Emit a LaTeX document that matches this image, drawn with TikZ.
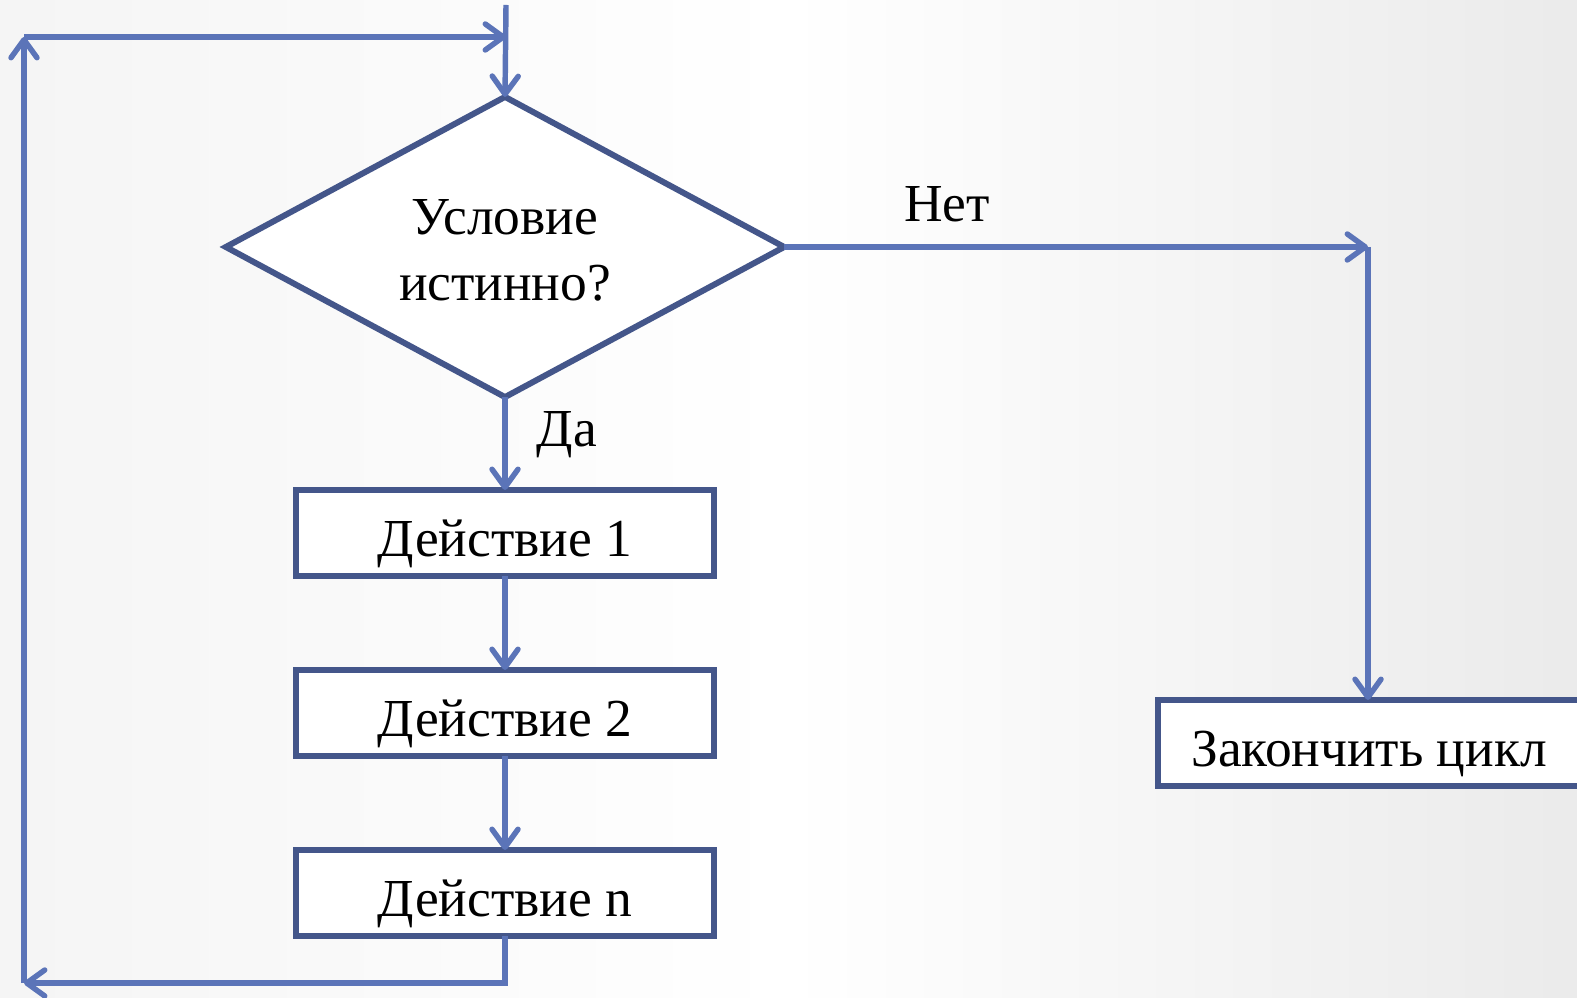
\documentclass[tikz,border=0pt]{standalone}
\usepackage{fontspec}
\setmainfont{Liberation Serif}
\usetikzlibrary{shapes.geometric,arrows.meta}
\definecolor{conn}{RGB}{91,116,184}
\definecolor{boxc}{RGB}{68,86,138}
\begin{document}
\begin{tikzpicture}[x=0.01cm,y=-0.01cm,
  every node/.style={font=\fontsize{15.2}{18.5}\selectfont, text=black},
  stepbox/.style={draw=boxc, line width=1.8pt, fill=white, minimum width=4.18cm, minimum height=0.86cm, inner sep=0pt, outer sep=0pt, text height=0.46cm, text depth=0pt},
  decision/.style={diamond, aspect=1.86, draw=boxc, line width=1.7pt, fill=white, minimum width=5.58cm, minimum height=3.0cm, inner sep=0pt, outer sep=0pt},
  link/.style={draw=conn, line width=1.55pt, -{Straight Barb[length=0.18cm,width=0.26cm,round]}}]
\shade[left color=black!4, right color=black!8, middle color=white] (0,0) rectangle (1577,998);
\useasboundingbox (0,0) rectangle (1577,998);
% nodes
\node[decision] (cond) at (505,247) {\raisebox{0pt}[1.06cm][0pt]{\begin{tabular}[b]{@{}c@{}}Условие\\истинно?\end{tabular}}};
\node[stepbox] (d1) at (505,533) {Действие 1};
\node[stepbox] (d2) at (505,713) {Действие 2};
\node[stepbox] (dn) at (505,893) {Действие n};
\node[stepbox, minimum width=4.32cm] (end) at (1374,743) {\hspace*{-0.1cm}Закончить цикл};
\node[anchor=base] (no) at (947,222) {Нет};
\node[anchor=base] (yes) at (567,447) {Да};
% coordinates
\coordinate (top) at (506,5);
\coordinate (join) at (506,37);
\coordinate (tl) at (24,37);
\coordinate (bl) at (24,983);
\coordinate (br) at (505,983);
\coordinate (rt) at (1368,247);
% connectors
\draw[link] (top) -- (cond.north);
\draw[link] (cond.south) -- (d1.north);
\draw[link] (d1.south) -- (d2.north);
\draw[link] (d2.south) -- (dn.north);
\draw[link] (dn.south) -- (br) -- (bl);
\draw[link] (bl) -- (tl);
\draw[link] (tl) -- (join);
\draw[link] (cond.east) -- (rt);
\draw[link] (rt) -- (rt |- end.north);
\end{tikzpicture}
\end{document}
